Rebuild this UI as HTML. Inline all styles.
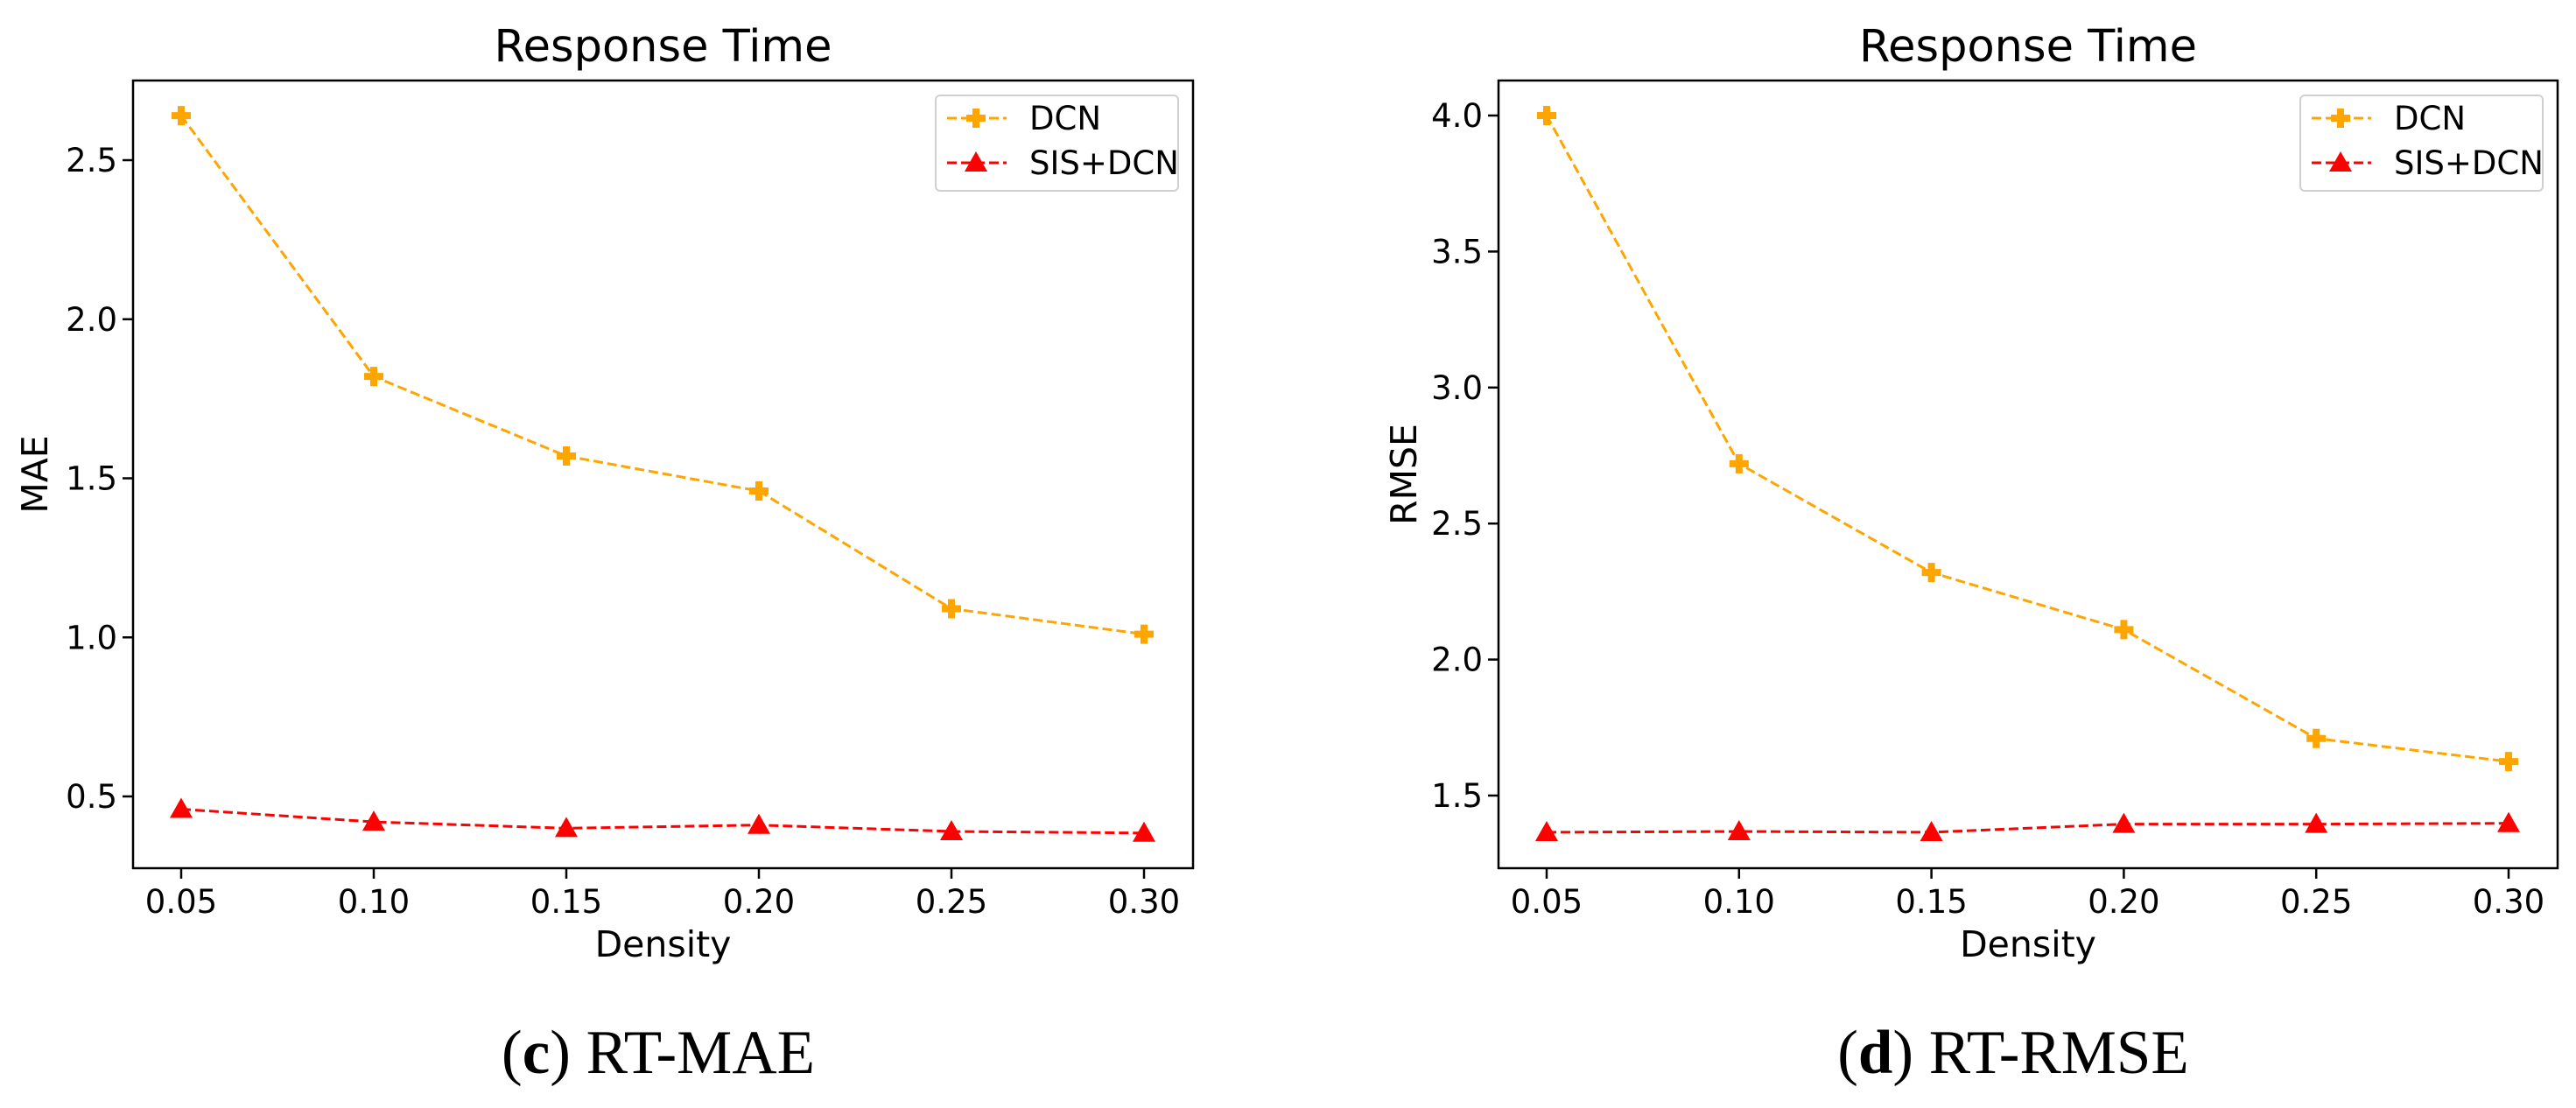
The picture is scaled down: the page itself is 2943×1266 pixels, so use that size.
<!DOCTYPE html>
<html><head><meta charset="utf-8">
<style>
html,body{margin:0;padding:0;background:#fff;}
svg{display:block;}
text{font-family:"DejaVu Sans","Liberation Sans",sans-serif;fill:#000;}
.cap{font-family:"Liberation Serif",serif;}
</style></head>
<body>
<svg id="fig" width="2943" height="1266" viewBox="0 0 2943 1266" xmlns="http://www.w3.org/2000/svg"></svg>
<script>
const categories = ["0.05","0.10","0.15","0.20","0.25","0.30"];
const maeDCN = [2.64, 1.82, 1.57, 1.46, 1.09, 1.01];
const maeSIS = [0.46, 0.42, 0.40, 0.41, 0.39, 0.385];
const rmseDCN = [4.0, 2.72, 2.32, 2.11, 1.71, 1.625];
const rmseSIS = [1.365, 1.368, 1.365, 1.395, 1.395, 1.398];
const maeTicks = [0.5, 1.0, 1.5, 2.0, 2.5];
const rmseTicks = [1.5, 2.0, 2.5, 3.0, 3.5, 4.0];

const NS = "http://www.w3.org/2000/svg";
const fig = document.getElementById('fig');
function mk(tag, attrs, parent){const e=document.createElementNS(NS,tag);for(const k in attrs)e.setAttribute(k,attrs[k]);(parent||fig).appendChild(e);return e;}

function plusPath(cx,cy){const a=4,b=11;return `M${cx-a},${cy-b}H${cx+a}V${cy-a}H${cx+b}V${cy+a}H${cx+a}V${cy+b}H${cx-a}V${cy+a}H${cx-b}V${cy-a}H${cx-a}Z`;}
function triPath(cx,cy){return `M${cx},${cy-13}L${cx+13},${cy+10}L${cx-13},${cy+10}Z`;}

function chart(cfg){
  const g = mk('g',{});
  
  
  const L=cfg.left,R=cfg.right,T=92,B=992;
  const xs = i => cfg.x0 + (cfg.x1-cfg.x0)*i/(categories.length-1);
  const ys = v => cfg.yA + (v-cfg.vA)*(cfg.yB-cfg.yA)/(cfg.vB-cfg.vA);
  const t=mk('text',{x:(L+R)/2,y:70,'font-size':51,'text-anchor':'middle'},g);t.textContent='Response Time';
  
  
  categories.forEach((c,i)=>{
    const x=xs(i);
    const tk=mk('line',{x1:x,x2:x,y1:B,y2:B+12,stroke:'#000','stroke-width':2.5},g);
    
    
    const tl=mk('text',{x:x,y:1043,'font-size':37,'text-anchor':'middle'},g);tl.textContent=c;
    
    
  });
  cfg.ticks.forEach(v=>{
    const y=ys(v);
    const tk=mk('line',{x1:L-12,x2:L,y1:y,y2:y,stroke:'#000','stroke-width':2.5},g);
    
    
    const tl=mk('text',{x:L-18,y:y+13,'font-size':37,'text-anchor':'end'},g);tl.textContent=v.toFixed(1);
    
    
  });
  const xl=mk('text',{x:(L+R)/2,y:1093,'font-size':41,'text-anchor':'middle'},g);xl.textContent='Density';
  
  
  const yl=mk('text',{x:0,y:0,'font-size':41,'text-anchor':'middle',transform:`translate(${cfg.ylx},${(T+B)/2}) rotate(-90)`},g);yl.textContent=cfg.ylabel;
  
  
  const series=[{d:cfg.dcn,c:'#ffa500',m:plusPath,n:'dcn'},{d:cfg.sis,c:'#ff0000',m:triPath,n:'sis-dcn'}];
  series.forEach(s=>{
    const pts=s.d.map((v,i)=>xs(i)+','+ys(v)).join(' ');
    const pl=mk('polyline',{points:pts,fill:'none',stroke:s.c,'stroke-width':3,'stroke-dasharray':'11,5'},g);
    
    
    s.d.forEach((v,i)=>{
      const p=mk('path',{d:s.m(xs(i),ys(v)),fill:s.c},g);
      
      
    });
  });
  const fr=mk('rect',{x:L,y:T,width:R-L,height:B-T,fill:'none',stroke:'#000','stroke-width':2.5},g);
  
  
  const lx=cfg.legX, ly=109;
  const lg=mk('g',{},g);
  
  
  mk('rect',{x:lx,y:ly,width:277,height:109,rx:5,fill:'#fff',stroke:'#d0d0d0','stroke-width':2},lg);
  [['DCN',series[0],135],['SIS+DCN',series[1],186]].forEach(([lab,s,y])=>{
    const e=mk('g',{},lg);
    
    
    mk('line',{x1:lx+13,x2:lx+81,y1:y,y2:y,stroke:s.c,'stroke-width':3,'stroke-dasharray':'11,5'},e);
    mk('path',{d:s.m(lx+46,y),fill:s.c},e);
    const tx=mk('text',{x:lx+107,y:y+13,'font-size':37},e);tx.textContent=lab;
  });
  const cp=mk('text',{x:cfg.capX,y:1226,'font-size':71,'text-anchor':'middle',class:'cap'},g);
  
  
  const b=mk('tspan',{},cp);b.textContent='(';
  const bb=mk('tspan',{'font-weight':'bold'},cp);bb.textContent=cfg.letter;
  const r=mk('tspan',{},cp);r.textContent=') '+cfg.caption;
}
chart({name:'rt-mae-chart',left:152,right:1363,x0:207,x1:1307,yA:910,vA:0.5,yB:183,vB:2.5,ticks:maeTicks,dcn:maeDCN,sis:maeSIS,ylabel:'MAE',ylx:54,legX:1069,capX:752,letter:'c',caption:'RT-MAE'});
chart({name:'rt-rmse-chart',left:1712,right:2922,x0:1767,x1:2866,yA:909,vA:1.5,yB:132,vB:4.0,ticks:rmseTicks,dcn:rmseDCN,sis:rmseSIS,ylabel:'RMSE',ylx:1618,legX:2628,capX:2300,letter:'d',caption:'RT-RMSE'});
</script>
</body></html>
